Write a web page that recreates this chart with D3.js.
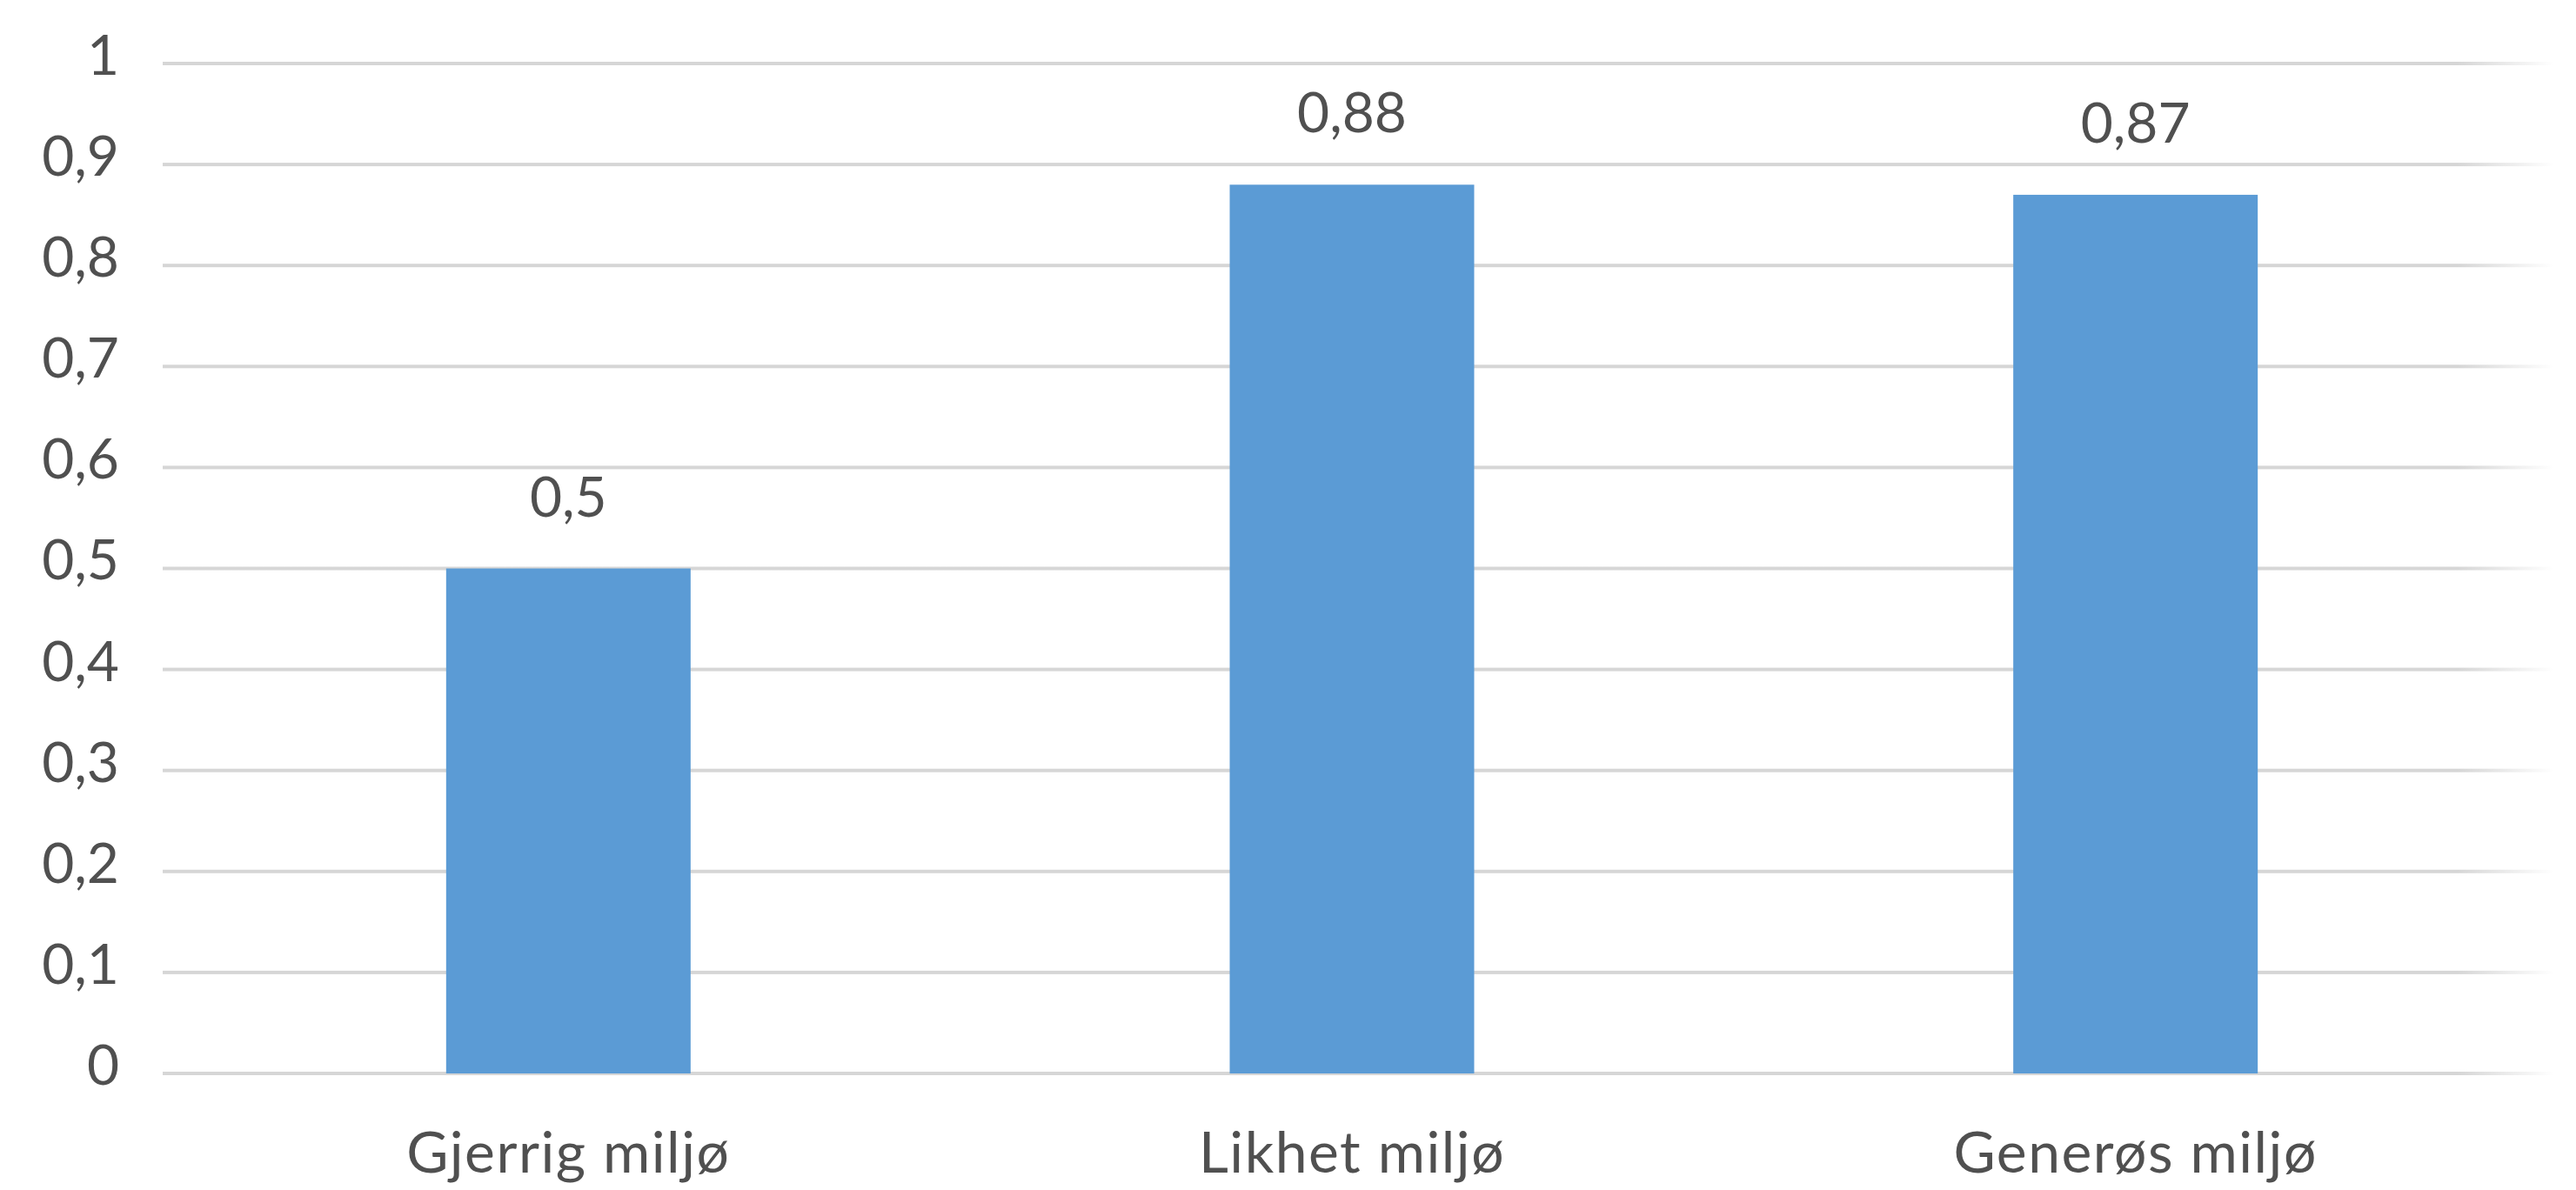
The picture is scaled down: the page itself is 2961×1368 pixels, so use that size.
<!DOCTYPE html>
<html>
<head>
<meta charset="utf-8">
<script src="https://cdn.jsdelivr.net/npm/d3@7/dist/d3.min.js"></script>
<style>
  html, body { margin: 0; padding: 0; background: #ffffff; }
  svg { display: block; }
  text { font-family: Lato, "Open Sans", "Liberation Sans", sans-serif; fill: #505050; }
</style>
</head>
<body>
<svg id="chart" width="2961" height="1368"></svg>
<script>
// Chart data
const categories = ["Gjerrig miljø", "Likhet miljø", "Generøs miljø"];
const values = [0.5, 0.88, 0.87];
const valueLabels = ["0,5", "0,88", "0,87"];
const yTicks = [0, 0.1, 0.2, 0.3, 0.4, 0.5, 0.6, 0.7, 0.8, 0.9, 1];
const yTickLabels = ["0", "0,1", "0,2", "0,3", "0,4", "0,5", "0,6", "0,7", "0,8", "0,9", "1"];

const svg = d3.select("#chart");

const plot = { left: 203, right: 2905, top: 73, bottom: 1234 };
const gridLeft = 187, gridRight = 2935;

const x = d3.scaleBand()
  .domain(categories)
  .range([plot.left, plot.right])
  .paddingInner(0.688)
  .paddingOuter(0.344);

const y = d3.scaleLinear()
  .domain([0, 1])
  .range([plot.bottom, plot.top]);

// Gridlines fade out toward the right edge
const defs = svg.append("defs");
const grad = defs.append("linearGradient")
  .attr("id", "gridFade")
  .attr("gradientUnits", "userSpaceOnUse")
  .attr("x1", gridLeft).attr("x2", gridRight)
  .attr("y1", 0).attr("y2", 0);
grad.append("stop").attr("offset", "0%").attr("stop-color", "#d6d6d6");
grad.append("stop").attr("offset", "96%").attr("stop-color", "#d6d6d6");
grad.append("stop").attr("offset", "100%").attr("stop-color", "#d6d6d6").attr("stop-opacity", 0);

// Horizontal gridlines
svg.append("g")
  .selectAll("rect")
  .data(yTicks)
  .join("rect")
  .attr("x", gridLeft)
  .attr("width", gridRight - gridLeft)
  .attr("y", d => y(d) - 2)
  .attr("height", 4)
  .attr("fill", "url(#gridFade)");

// Y axis tick labels
const yAxis = d3.axisLeft(y)
  .tickValues(yTicks)
  .tickFormat((d, i) => yTickLabels[i])
  .tickSize(0)
  .tickPadding(0);

const yAxisG = svg.append("g")
  .attr("transform", `translate(137,0)`)
  .call(yAxis);
yAxisG.select(".domain").remove();
yAxisG.selectAll("text")
  .attr("font-size", 64)
  .attr("dy", "0.32em")
  .attr("y", -8)
  .style("font-family", "Lato, 'Open Sans', sans-serif")
  .attr("fill", "#4a4a4a");

// Bars
svg.append("g")
  .selectAll("rect")
  .data(values)
  .join("rect")
  .attr("x", (d, i) => x(categories[i]))
  .attr("width", x.bandwidth())
  .attr("y", d => y(d))
  .attr("height", d => y(0) - y(d))
  .attr("fill", "#5b9bd5");

// Value labels above bars
svg.append("g")
  .selectAll("text")
  .data(values)
  .join("text")
  .attr("x", (d, i) => x(categories[i]) + x.bandwidth() / 2)
  .attr("y", d => y(d) - 60)
  .attr("text-anchor", "middle")
  .attr("font-size", 64)
  .attr("fill", "#4a4a4a")
  .text((d, i) => valueLabels[i]);

// Category labels
const xAxis = d3.axisBottom(x).tickSize(0).tickPadding(0);
const xAxisG = svg.append("g")
  .attr("transform", `translate(0,${plot.bottom})`)
  .call(xAxis);
xAxisG.select(".domain").remove();
xAxisG.selectAll("text")
  .attr("font-size", 66)
  .attr("dy", 0)
  .attr("y", 114)
  .attr("letter-spacing", 1.5)
  .style("font-family", "Lato, 'Open Sans', sans-serif")
  .attr("fill", "#4a4a4a");
</script>
</body>
</html>
